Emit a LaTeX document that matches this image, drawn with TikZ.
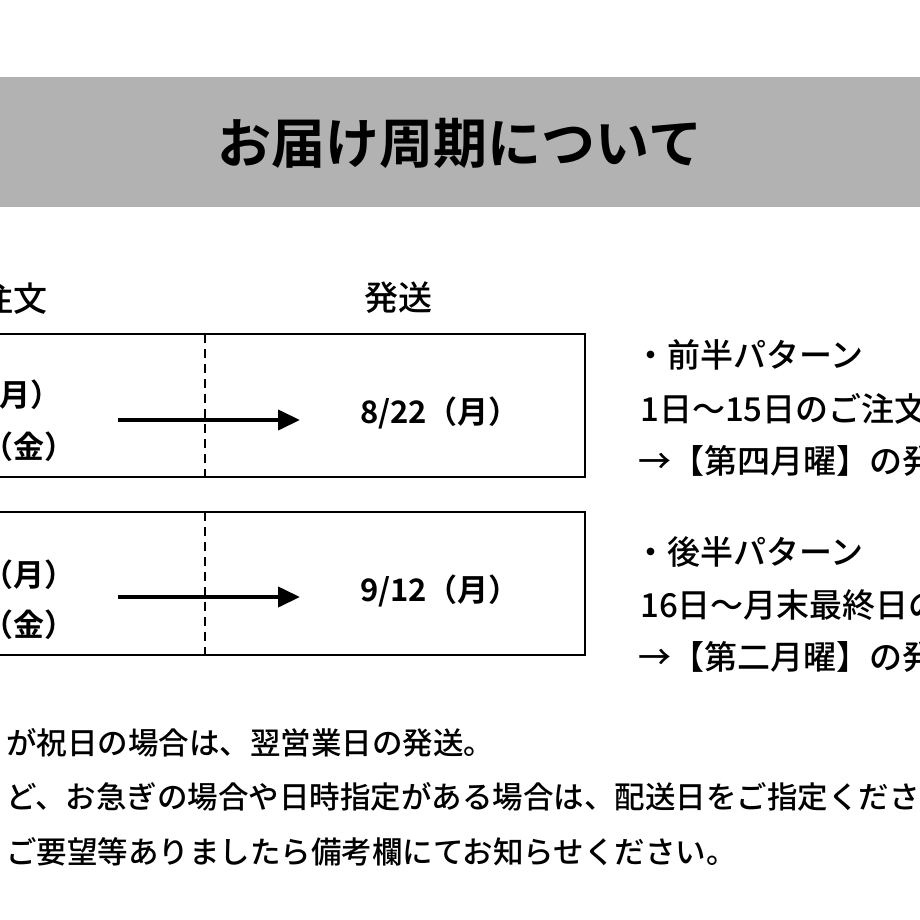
\documentclass[tikz,border=0pt]{standalone}
\usepackage{fontspec}
\setmainfont{Noto Sans CJK JP}[BoldFont={* Bold}]
\newfontfamily\jpb{Noto Sans CJK JP Bold}
\newfontfamily\jpm{Noto Sans CJK JP Medium}
\usetikzlibrary{arrows.meta}
\definecolor{band}{RGB}{178,178,178}
\tikzset{
  t/.style={inner sep=0pt,font=\fontsize{31}{34}\selectfont\jpb},
  hd/.style={inner sep=0pt,font=\fontsize{34}{38}\selectfont\jpm},
  tr/.style={inner sep=0pt,font=\fontsize{33}{36}\selectfont\jpm},
  tb/.style={inner sep=0pt,font=\fontsize{30.5}{34}\selectfont\jpm},
  frame/.style={line width=2pt},
  arr/.style={line width=4pt,-{Triangle[length=22pt,width=20pt]}},
  divider/.style={line width=2pt,dash pattern=on 9pt off 6pt}
}
\begin{document}
\begin{tikzpicture}[x=1pt,y=-1pt]
\useasboundingbox (0,0) rectangle (920,920);
\clip (0,0) rectangle (920,920);
\fill[white] (0,0) rectangle (920,920);
\fill[band] (-2,77) rectangle (922,207);
\node[inner sep=0pt,font=\fontsize{54}{58}\selectfont\jpb] (title) at (460,143) {お届け周期について};
\node[hd,anchor=east] (h1) at (48,298) {ご注文};
\node[hd] (h2) at (398,298) {発送};
% box 1
\draw[frame] (-5,334) rectangle (585,477);
\coordinate (d1t) at (205,334); \coordinate (d1b) at (205,477);
\draw[divider] (d1t) -- (d1b);
\node[t,anchor=east] (a1) at (62,396) {8/1（月）};
\node[t,anchor=east] (a2) at (76,448) {～8/11（金）};
\coordinate (s1) at (118,420); \coordinate (e1) at (300,420);
\draw[arr] (s1) -- (e1);
\node[t] (r1) at (440,413) {8/22（月）};
% box 2
\draw[frame] (-5,512) rectangle (585,655);
\coordinate (d2t) at (205,512); \coordinate (d2b) at (205,655);
\draw[divider] (d2t) -- (d2b);
\node[t,anchor=east] (b1) at (76,576) {8/15（月）};
\node[t,anchor=east] (b2) at (76,626) {～8/19（金）};
\coordinate (s2) at (118,597); \coordinate (e2) at (300,597);
\draw[arr] (s2) -- (e2);
\node[t] (r2) at (440,591) {9/12（月）};
% right notes
\node[tr,anchor=west] (p1) at (634,355) {・前半パターン};
\node[tr,anchor=west] (p2) at (640,409) {1日～15日のご注文};
\node[tr,anchor=west] (p3) at (638,461) {→【第四月曜】の発送};
\node[tr,anchor=west] (q1) at (634,552) {・後半パターン};
\node[tr,anchor=west] (q2) at (640,605) {16日～月末最終日のご注文};
\node[tr,anchor=west] (q3) at (638,657) {→【第二月曜】の発送};
% bottom
\node[tb,anchor=west] (n1) at (6,743) {が祝日の場合は、翌営業日の発送。};
\node[tb,anchor=west] (n2) at (6,797) {ど、お急ぎの場合や日時指定がある場合は、配送日をご指定ください。};
\node[tb,anchor=west] (n3) at (6,852) {ご要望等ありましたら備考欄にてお知らせください。};
\end{tikzpicture}
\end{document}
